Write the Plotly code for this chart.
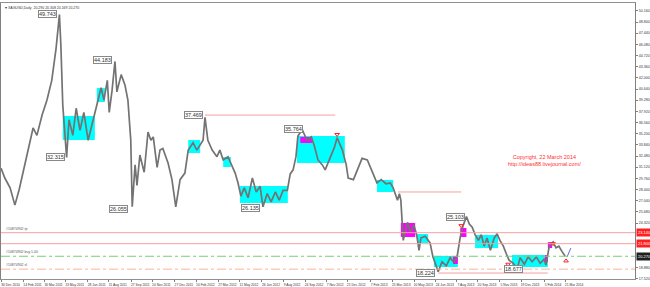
import plotly.graph_objects as go

# ---------------- data ----------------
price_dates = [
    "2010-12-29", "2011-01-06", "2011-01-17", "2011-01-27", "2011-02-05", "2011-02-15", "2011-02-23",
    "2011-03-06", "2011-03-14", "2011-03-25", "2011-04-04", "2011-04-14", "2011-04-23", "2011-04-30",
    "2011-05-03", "2011-05-07", "2011-05-15", "2011-05-20", "2011-05-28", "2011-06-04", "2011-06-12",
    "2011-06-20", "2011-06-29", "2011-07-05", "2011-07-13", "2011-07-20", "2011-07-26", "2011-08-01",
    "2011-08-08", "2011-08-12", "2011-08-18", "2011-08-24", "2011-08-28", "2011-09-06", "2011-09-14",
    "2011-09-20", "2011-09-26", "2011-09-29", "2011-10-05", "2011-10-09", "2011-10-15", "2011-10-24",
    "2011-11-01", "2011-11-07", "2011-11-12", "2011-11-20", "2011-11-26", "2011-12-02", "2011-12-13",
    "2011-12-21", "2011-12-29", "2012-01-07", "2012-01-17", "2012-01-24", "2012-02-03", "2012-02-11",
    "2012-02-24", "2012-02-28", "2012-03-05", "2012-03-14", "2012-03-24", "2012-03-30", "2012-04-06",
    "2012-04-16", "2012-04-24", "2012-05-01", "2012-05-07", "2012-05-13", "2012-05-20", "2012-05-28",
    "2012-06-06", "2012-06-14", "2012-06-22", "2012-06-28", "2012-07-07", "2012-07-15", "2012-07-24",
    "2012-08-01", "2012-08-09", "2012-08-18", "2012-08-24", "2012-08-30", "2012-09-05", "2012-09-09",
    "2012-09-18", "2012-09-28", "2012-10-07", "2012-10-13", "2012-10-21", "2012-10-30", "2012-11-05",
    "2012-11-16", "2012-11-24", "2012-11-30", "2012-12-11", "2012-12-19", "2012-12-23", "2013-01-03",
    "2013-01-13", "2013-01-21", "2013-02-01", "2013-02-11", "2013-02-21", "2013-03-02", "2013-03-12",
    "2013-03-21", "2013-03-27", "2013-04-05", "2013-04-09", "2013-04-12", "2013-04-17", "2013-04-26",
    "2013-05-02", "2013-05-09", "2013-05-15", "2013-05-20", "2013-05-24", "2013-06-02", "2013-06-12",
    "2013-06-18", "2013-06-25", "2013-06-29", "2013-07-07", "2013-07-16", "2013-07-24", "2013-08-01",
    "2013-08-08", "2013-08-14", "2013-08-20", "2013-08-27", "2013-09-02", "2013-09-08", "2013-09-14",
    "2013-09-21", "2013-09-27", "2013-10-03", "2013-10-09", "2013-10-16", "2013-10-24", "2013-10-30",
    "2013-11-05", "2013-11-12", "2013-11-18", "2013-11-24", "2013-12-03", "2013-12-11", "2013-12-17",
    "2013-12-26", "2014-01-03", "2014-01-11", "2014-01-20", "2014-01-28", "2014-02-05", "2014-02-09",
    "2014-02-16", "2014-02-24", "2014-03-02", "2014-03-08", "2014-03-15", "2014-03-21",
]
price_values = [
    31.0, 29.8, 28.6, 26.5, 28.4, 31.0, 33.2,
    35.9, 35.0, 37.5, 39.3, 41.7, 45.6, 49.7,
    46.0, 38.7, 32.3, 36.9, 35.0, 38.3, 35.6,
    37.8, 34.4, 35.9, 37.8, 39.5, 40.8, 39.3,
    41.7, 37.8, 40.5, 44.0, 40.3, 42.4, 41.1,
    39.3, 34.4, 26.3, 31.4, 28.9, 32.6, 30.5,
    35.4, 34.4, 34.8, 31.1, 33.2, 33.4, 31.6,
    29.6, 26.3, 29.6, 30.4, 33.2, 34.1, 33.2,
    34.4, 37.2, 34.4, 33.2, 32.4, 33.2, 32.0,
    32.4, 31.4, 30.4, 29.2, 27.6, 28.6, 27.4,
    29.8, 28.1, 28.8, 26.3, 27.9, 26.9, 28.1,
    27.1, 28.3, 28.3, 30.3, 30.8, 32.4, 34.9,
    35.7, 34.4, 34.8, 33.8, 32.0, 31.4, 30.8,
    32.4, 33.5, 34.7, 33.2, 31.4, 29.8, 29.6,
    31.1, 32.2, 32.0, 30.5, 29.2, 29.6, 29.1,
    29.2, 28.6, 27.1, 27.9, 27.1, 22.2, 24.4,
    23.2, 24.1, 22.9, 21.0, 22.5, 22.7, 21.9,
    20.2, 19.1, 18.4, 19.6, 19.1, 20.1, 19.5,
    20.4, 22.6, 24.0, 25.1, 24.2, 23.8, 22.9,
    22.2, 22.9, 21.5, 22.5, 21.0, 22.5, 23.0,
    22.2, 21.5, 20.6, 19.8, 19.4, 18.7, 20.1,
    19.3, 20.2, 19.6, 20.2, 19.4, 19.9, 19.2,
    21.5, 22.0, 21.3, 21.5, 20.8, 20.3,
]

# consolidation boxes
box_start = ["2011-05-07", "2011-07-17", "2012-01-24", "2012-04-06", "2012-05-11", "2012-09-07",
             "2012-09-14", "2013-02-21", "2013-04-12", "2013-05-16", "2013-06-20", "2013-07-30",
             "2013-08-14", "2013-09-14", "2013-11-30", "2014-02-07", "2014-02-13"]
box_end = ["2011-07-13", "2011-08-03", "2012-02-18", "2012-04-22", "2012-08-19", "2012-12-16",
           "2012-10-09", "2013-03-27", "2013-05-12", "2013-06-08", "2013-08-09", "2013-08-09",
           "2013-08-27", "2013-11-01", "2014-02-13", "2014-02-13", "2014-02-22"]
box_low = [34.43, 39.06, 32.85, 31.14, 26.76, 31.63, 34.07, 28.10, 22.62, 21.89, 18.96, 19.33,
           22.62, 21.27, 18.96, 19.57, 21.27]
box_high = [37.35, 40.76, 34.43, 32.36, 28.83, 34.92, 34.80, 29.56, 24.32, 22.98, 20.30, 20.30,
            23.71, 22.86, 20.42, 20.42, 21.99]
box_kind = ["c", "c", "c", "c", "c", "c", "m", "c", "m", "c", "c", "m", "m", "c", "c", "m", "m"]

# swing labels
swing_text = ["49.743", "44.183", "32.315", "26.055", "37.469", "26.135", "35.764",
              "25.103", "18.224", "18.677"]
swing_label_end = ["2011-04-25", "2011-08-18", "2011-05-12", "2011-09-20", "2012-02-24",
                   "2012-06-22", "2012-09-20", "2013-08-23", "2013-06-23", "2013-12-23"]

# partial resistance lines
seg_start = ["2012-02-28", "2013-04-06", "2013-06-29"]
seg_end = ["2012-11-26", "2013-08-16", "2014-02-13"]
seg_level = [37.469, 28.10, 18.224]

# order lines
order_levels = [23.14, 21.80, 20.27, 18.70]
order_names = ["#10874902 tp", "", "#10874902 buy 1.00", "#10874902 sl"]
axis_box_text = ["23.140", "21.800", "20.270"]

# x axis labels
date_ticks = ["2010-12-30", "2011-02-14", "2011-03-30", "2011-05-13", "2011-06-28", "2011-08-11",
              "2011-09-27", "2011-11-10", "2011-12-27", "2012-02-10", "2012-03-27", "2012-05-11",
              "2012-06-26", "2012-08-09", "2012-09-24", "2012-11-07", "2012-12-21", "2013-02-07",
              "2013-03-25", "2013-05-10", "2013-06-24", "2013-08-07", "2013-09-20", "2013-11-05",
              "2013-12-19", "2014-02-05", "2014-03-21"]
date_tick_text = ["30 Dec 2010", "14 Feb 2011", "30 Mar 2011", "13 May 2011", "28 Jun 2011",
                  "11 Aug 2011", "27 Sep 2011", "10 Nov 2011", "27 Dec 2011", "10 Feb 2012",
                  "27 Mar 2012", "11 May 2012", "26 Jun 2012", "9 Aug 2012", "24 Sep 2012",
                  "7 Nov 2012", "21 Dec 2012", "7 Feb 2013", "25 Mar 2013", "10 May 2013",
                  "24 Jun 2013", "7 Aug 2013", "20 Sep 2013", "5 Nov 2013", "19 Dec 2013",
                  "5 Feb 2014", "21 Mar 2014"]

# y axis labels
price_ticks = [50.16, 48.80, 47.44, 46.08, 44.72, 43.36, 42.00, 40.64, 39.28, 37.92, 36.56,
               35.20, 33.84, 32.48, 31.12, 29.76, 28.40, 27.04, 25.68, 24.32, 18.88, 17.52]
price_tick_text = ["50.160", "48.800", "47.440", "46.080", "44.720", "43.360", "42.000",
                   "40.640", "39.280", "37.920", "36.560", "35.200", "33.840", "32.480",
                   "31.120", "29.760", "28.400", "27.040", "25.680", "24.320", "18.880", "17.520"]

# trade arrows
arrow_dates = ["2012-11-30", "2013-08-16", "2013-11-22", "2014-02-24"]
arrow_prices = [35.1, 24.0, 19.3, 21.8]
up_arrow_dates = ["2014-03-23"]
up_arrow_prices = [19.7]
trend_dates = ["2014-03-25", "2014-04-02"]
trend_prices = [20.17, 21.27]

# ---------------- figure ----------------
FONT = "Liberation Sans, Arial, sans-serif"
fig = go.Figure()

shapes = []
for x0, x1, lo, hi, k in zip(box_start, box_end, box_low, box_high, box_kind):
    shapes.append(dict(type="rect", xref="x", yref="y", x0=x0, x1=x1, y0=lo, y1=hi,
                       fillcolor="#00FFFF" if k == "c" else "#FF00FF",
                       line=dict(width=0), layer="below"))
for x0, x1, lv in zip(seg_start, seg_end, seg_level):
    shapes.append(dict(type="line", xref="x", yref="y", x0=x0, x1=x1, y0=lv, y1=lv,
                       line=dict(color="#F4A0A0", width=1)))
order_styles = [("#F4A0A0", "solid"), ("#F4A0A0", "solid"), ("#7CCB7C", "dashdot"), ("#F5B89A", "dashdot")]
for lv, (col, dash) in zip(order_levels, order_styles):
    shapes.append(dict(type="line", xref="paper", yref="y", x0=0, x1=1, y0=lv, y1=lv,
                       line=dict(color=col, width=1, dash=dash)))

fig.add_trace(go.Scatter(x=price_dates, y=price_values, mode="lines",
                         line=dict(color="#737373", width=1.7), hoverinfo="skip", showlegend=False))
fig.add_trace(go.Scatter(x=arrow_dates, y=arrow_prices, mode="markers",
                         marker=dict(symbol="triangle-down-open", size=4, color="#FF2020", line=dict(width=1)),
                         showlegend=False))
fig.add_trace(go.Scatter(x=up_arrow_dates, y=up_arrow_prices, mode="markers",
                         marker=dict(symbol="triangle-up-open", size=4, color="#FF2020", line=dict(width=1)),
                         showlegend=False))
fig.add_trace(go.Scatter(x=trend_dates, y=trend_prices, mode="lines",
                         line=dict(color="#6060FF", width=1), showlegend=False))

annotations = []
for txt, xe in zip(swing_text, swing_label_end):
    annotations.append(dict(x=xe, y=float(txt), xref="x", yref="y", text=txt, showarrow=False,
                            xanchor="right", yanchor="middle",
                            font=dict(family=FONT, size=5.5, color="#333333"),
                            bgcolor="#FFFFFF", bordercolor="#888888", borderwidth=1, borderpad=0))
for lv, nm in zip(order_levels, order_names):
    if nm:
        annotations.append(dict(x=0.004, y=lv, xref="paper", yref="y", text=nm, showarrow=False,
                                xanchor="left", yanchor="bottom", yshift=0,
                                font=dict(family=FONT, size=3.5, color="#555555")))
for lv, txt, bg in zip(order_levels[:3], axis_box_text, ["#FF2020", "#FF2020", "#202020"]):
    annotations.append(dict(x=1.0, y=lv, xref="paper", yref="y", text=txt, showarrow=False,
                            xanchor="left", yanchor="middle", xshift=1,
                            font=dict(family=FONT, size=4, color="#FFFFFF"),
                            bgcolor=bg, borderpad=1))
annotations.append(dict(x=0.858, y=0.43, xref="paper", yref="paper",
                        text="Copyright, 22 March 2014<br>http://ideas88.livejournal.com/",
                        showarrow=False, xanchor="center", yanchor="middle", align="center",
                        font=dict(family=FONT, size=5.5, color="#FF3030")))
annotations.append(dict(x=0.003, y=1.0, xref="paper", yref="paper",
                        text="▾ XAGUSD,Daily  20.290 20.308 20.169 20.270",
                        showarrow=False, xanchor="left", yanchor="top", yshift=-1,
                        font=dict(family=FONT, size=3.5, color="#333333")))

fig.update_layout(
    width=650, height=287,
    margin=dict(l=1, r=15, t=3, b=8),
    paper_bgcolor="#FFFFFF", plot_bgcolor="#FFFFFF",
    shapes=shapes, annotations=annotations,
    xaxis=dict(type="date", range=["2010-12-29", "2014-08-14"],
               tickvals=date_ticks, ticktext=date_tick_text, tickangle=0, automargin=False,
               tickfont=dict(family=FONT, size=3.3, color="#333333"),
               ticks="outside", ticklen=2, tickcolor="#808080",
               ticklabelshift=9, ticklabelstandoff=0,
               showgrid=False, zeroline=False,
               showline=True, linecolor="#909090", linewidth=1, mirror=True),
    yaxis=dict(range=[17.50, 51.12], side="right", automargin=False,
               tickvals=price_ticks, ticktext=price_tick_text,
               tickfont=dict(family=FONT, size=3.6, color="#333333"),
               ticks="outside", ticklen=2, tickcolor="#808080",
               showgrid=False, zeroline=False,
               showline=True, linecolor="#808080", linewidth=1, mirror=True),
    showlegend=False,
)

fig.write_html("out.html")
